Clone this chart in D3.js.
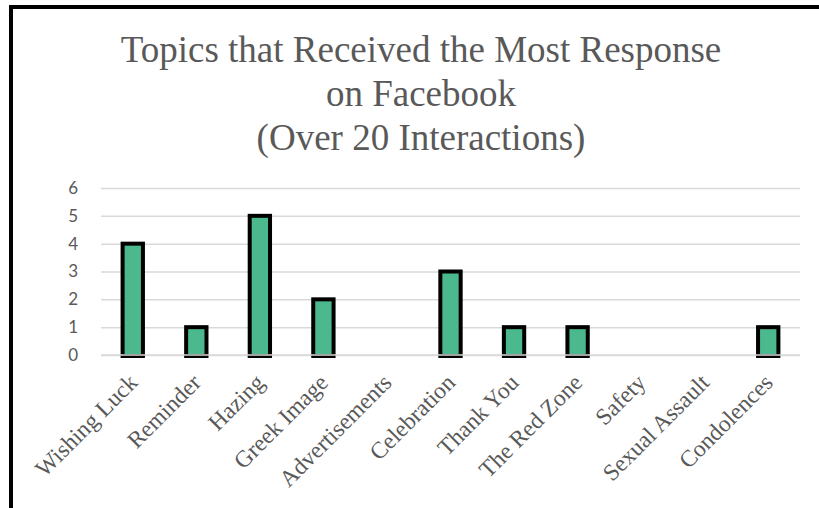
<!DOCTYPE html>
<html><head><meta charset="utf-8">
<script src="https://cdn.jsdelivr.net/npm/d3@7"></script>
<style>html,body{margin:0;padding:0;background:#fff;}svg{display:block;}</style>
</head><body>
<svg id="c" width="819" height="508"></svg>
<script>
const categories = ["Wishing Luck","Reminder","Hazing","Greek Image","Advertisements","Celebration","Thank You","The Red Zone","Safety","Sexual Assault","Condolences"];
const values = [4,1,5,2,0,3,1,1,0,0,1];
const yTicks = [0,1,2,3,4,5,6];
const titleLines = ["Topics that Received the Most Response","on Facebook","(Over 20 Interactions)"];

(function(){
const svg = d3.select("#c");
const pl = 101, pr = 800, pt = 188, pb = 355;
const x = d3.scaleBand().domain(categories).range([pl, pr]).paddingInner(0.68).paddingOuter(0.34);
const y = d3.scaleLinear().domain([0, 6]).range([pb, pt]);

// border
svg.append("path").attr("d", "M11,510 L11,7 L830,7").attr("fill","none").attr("stroke","#000").attr("stroke-width",4);

// title
svg.append("g").selectAll("text").data(titleLines).join("text")
  .attr("x", 421).attr("y", (d,i) => 62 + i*44)
  .attr("text-anchor","middle")
  .attr("font-family","Liberation Serif")
  .attr("font-size", 37).attr("fill","#595959").text(d => d);

// gridlines
const yAxis = d3.axisLeft(y).tickValues(yTicks).tickSize(-(pr-pl)).tickFormat(d3.format("d")).tickPadding(23);
const gy = svg.append("g").attr("transform", `translate(${pl},0)`).call(yAxis);
gy.select(".domain").remove();
gy.selectAll(".tick line").attr("stroke","#d9d9d9").attr("stroke-width",1.5);
gy.selectAll(".tick text").attr("font-family","Lato").attr("font-size",17).attr("fill","#595959");

// bars
svg.append("g").selectAll("rect").data(categories.map((c,i)=>({c, v: values[i]})).filter(d => d.v > 0)).join("rect")
  .attr("x", d => x(d.c)).attr("width", x.bandwidth())
  .attr("y", d => y(d.v)).attr("height", d => y(0) - y(d.v) + 1)
  .attr("fill","#4cb88e").attr("stroke","#000").attr("stroke-width",4);

// zero line on top
svg.append("line").attr("x1",pl).attr("x2",pr).attr("y1",y(0)).attr("y2",y(0)).attr("stroke","#d9d9d9").attr("stroke-width",1.5);

// x labels
const xAxis = d3.axisBottom(x).tickSize(0).tickPadding(0);
const gx = svg.append("g").attr("transform", `translate(0,${pb})`).call(xAxis);
gx.select(".domain").remove();
gx.selectAll(".tick text")
  .attr("font-family","Liberation Serif").attr("font-size",23.5).attr("fill","#595959")
  .attr("text-anchor","end").attr("dy",0).attr("y",0)
  .attr("transform","translate(6,29) rotate(-45)");
})();
</script>
</body></html>
